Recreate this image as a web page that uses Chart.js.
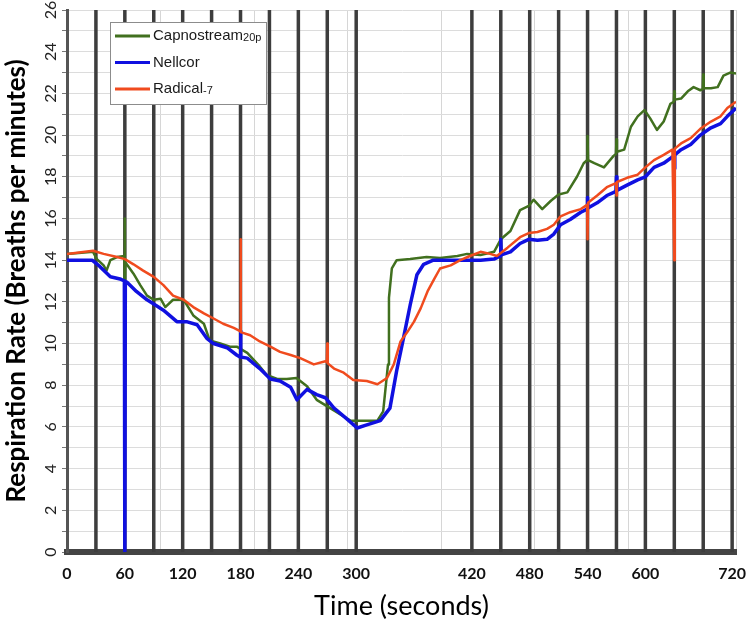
<!DOCTYPE html>
<html lang="en">
<head>
  <meta charset="UTF-8">
  <title>Respiration Rate</title>
  <script src="https://cdn.jsdelivr.net/npm/chart.js"></script>
  <style>
    html, body { margin: 0; padding: 0; background: #fff; }
    canvas { display: block; }
  </style>
</head>
<body>
  <canvas id="chart" width="750" height="622"></canvas>

  <script>
    // x ticks (seconds) and the text printed under each one
    const xTickValues = [0, 60, 120, 180, 240, 300, 420, 480, 540, 600, 690];
    const xTickLabels = ['0', '60', '120', '180', '240', '300', '420', '480', '540', '600', '720'];
    const yTickLabels = [0, 2, 4, 6, 8, 10, 12, 14, 16, 18, 20, 22, 24, 26];

    // dark event marks, every 30 s
    const eventTimes = [30, 60, 90, 120, 150, 180, 210, 240, 270, 300,
                        420, 450, 480, 510, 540, 570, 600, 630, 660, 690];

    const seriesNames = ['Capnostream', 'Nellcor', 'Radical'];
    const seriesSuffix = ['20p', '', '-7'];
    const seriesColors = ['#41701f', '#1010e0', '#f04b1e'];

    const capnoTime = [0, 27, 31, 38, 41, 45, 52, 59.5, 60, 60, 60.5, 62, 69, 76, 83, 90, 97, 102, 110, 121,
      131, 142, 148, 159, 169, 176, 187, 200, 207, 218, 228, 238, 249, 259, 273, 287, 294, 311, 322, 328,
      333, 334, 337, 342, 356, 373, 387, 405, 415, 429, 443, 450, 460, 470, 479, 484, 493, 502, 510, 519,
      529, 536, 539.5, 540, 540.5, 547, 557, 567, 569.5, 570, 570.5, 578, 585, 592, 599, 605, 612, 619, 626, 629.5,
      630, 630.5, 637, 644, 650, 657, 659.5, 660, 660.5, 668, 675, 681, 688, 694];
    const capnoRate = [14.3, 14.4, 14.05, 13.75, 13.5, 14.0, 14.15, 14.2, 16.0, 11.9, 13.9, 13.8, 13.35, 12.8, 12.3, 12.1, 12.15, 11.75, 12.1, 12.1,
      11.35, 10.95, 10.15, 10.0, 9.85, 9.85, 9.55, 8.9, 8.5, 8.3, 8.3, 8.35, 7.95, 7.3, 6.9, 6.5, 6.3, 6.3, 6.3, 6.75,
      9.0, 12.2, 13.6, 14.0, 14.05, 14.15, 14.1, 14.2, 14.3, 14.25, 14.4, 15.0, 15.4, 16.4, 16.6, 16.9, 16.45, 16.85, 17.15, 17.25,
      18.0, 18.65, 18.8, 19.95, 18.8, 18.65, 18.45, 19.0, 19.1, 19.8, 19.2, 19.3, 20.4, 20.9, 21.2, 20.8, 20.25, 20.65, 21.5, 21.6,
      22.1, 21.7, 21.75, 22.1, 22.3, 22.15, 22.2, 22.9, 22.25, 22.25, 22.3, 22.85, 23.0, 22.95];

    const nellcorTime = [0, 26, 34, 45, 55, 59.5, 60, 60.5, 62, 72, 83, 90, 100, 114, 124, 135, 145, 152, 166, 176,
      179.5, 180, 180.5, 187, 200, 211, 221, 232, 238.5, 249, 259, 268, 277, 290, 301, 311, 325, 335, 342, 349,
      356, 363, 370, 380, 398, 415, 429, 443, 449.5, 450, 450.5, 460, 470, 479, 488, 498, 505, 512, 522, 533,
      539.5, 540, 540.5, 550, 560, 569.5, 570, 570.5, 581, 592, 600, 609, 619, 629.5, 630, 630.5, 637, 647, 657, 668,
      678, 685, 694];
    const nellcorRate = [14.0, 14.0, 13.7, 13.2, 13.1, 13.0, 0, 12.95, 12.95, 12.5, 12.1, 11.9, 11.6, 11.05, 11.05, 10.9, 10.25, 10.0, 9.8, 9.45,
      9.35, 10.6, 9.35, 9.3, 8.8, 8.3, 8.2, 7.9, 7.3, 7.8, 7.55, 7.4, 6.9, 6.4, 5.95, 6.1, 6.3, 6.9, 8.7, 10.25,
      11.85, 13.3, 13.8, 14.0, 14.0, 14.0, 14.0, 14.05, 14.2, 15.0, 14.25, 14.4, 14.8, 15.0, 14.95, 15.0, 15.25, 15.7, 15.95, 16.3,
      16.45, 17.0, 16.5, 16.75, 17.1, 17.3, 18.0, 17.35, 17.6, 17.85, 18.0, 18.45, 18.65, 19.0, 18.4, 19.05, 19.3, 19.55, 20.0, 20.35,
      20.55, 20.9, 21.3];

    const radicalTime = [0, 27, 38, 52, 60, 69, 79, 90, 100, 110, 121, 131, 142, 152, 162, 173, 179.5, 180, 180.5, 190,
      200, 211, 221, 232, 242, 256, 268, 269.5, 270, 270.5, 277, 287, 297, 311, 322, 332, 339, 346, 353, 360,
      367, 374, 381, 387, 398, 408, 418, 429, 439, 446, 457, 470, 479, 488, 498, 505, 512, 522, 533, 539.5,
      540, 540.5, 550, 560, 569.5, 570, 570.5, 581, 592, 600, 609, 619, 628, 630, 630.5, 637, 647, 657, 668, 678,
      685, 694];
    const radicalRate = [14.3, 14.45, 14.3, 14.15, 14.05, 13.8, 13.5, 13.2, 12.8, 12.3, 12.1, 11.75, 11.45, 11.2, 10.95, 10.75, 10.6, 15.0, 10.55, 10.4,
      10.1, 9.85, 9.6, 9.45, 9.3, 9.0, 9.15, 9.1, 10.0, 9.05, 8.8, 8.6, 8.25, 8.2, 8.05, 8.35, 9.0, 10.1, 10.55, 11.05,
      11.7, 12.5, 13.1, 13.6, 13.75, 14.0, 14.2, 14.4, 14.3, 14.2, 14.6, 15.1, 15.3, 15.35, 15.5, 15.7, 16.1, 16.3, 16.45, 16.65,
      15.0, 16.75, 17.1, 17.5, 17.7, 17.1, 17.75, 17.95, 18.1, 18.45, 18.8, 19.05, 19.3, 14.0, 19.35, 19.6, 19.85, 20.3, 20.65, 20.9,
      21.3, 21.6];

    function pts(ts, vs) { return ts.map((t, i) => ({ x: t, y: vs[i] })); }

    const eventData = [];
    eventTimes.forEach(t => { eventData.push({ x: t, y: 0 }, { x: t, y: 26 }, { x: t, y: null }); });

    // legend drawn inside the plot, small suffixes like the original
    const legendBox = {
      id: 'legendBox',
      afterDatasetsDraw(chart) {
        const ctx = chart.ctx;
        const x = chart.chartArea.left + 43, y = 22;
        ctx.save();
        ctx.fillStyle = '#fff';
        ctx.fillRect(x, y, 156, 82);
        ctx.strokeStyle = '#8c8c8c';
        ctx.lineWidth = 1;
        ctx.strokeRect(x + 0.5, y + 0.5, 156, 82);
        seriesNames.forEach((name, i) => {
          const ly = y + 14 + i * 26.5;
          ctx.strokeStyle = seriesColors[i];
          ctx.lineWidth = 3;
          ctx.beginPath();
          ctx.moveTo(x + 5, ly);
          ctx.lineTo(x + 40, ly);
          ctx.stroke();
          ctx.fillStyle = '#1a1a1a';
          ctx.textBaseline = 'middle';
          ctx.font = '15px "Liberation Sans", Arial, sans-serif';
          ctx.fillText(name, x + 43, ly);
          const w = ctx.measureText(name).width;
          ctx.font = '11px "Liberation Sans", Arial, sans-serif';
          ctx.fillText(seriesSuffix[i], x + 43 + w, ly + 2);
        });
        ctx.restore();
      }
    };

    new Chart(document.getElementById('chart'), {
      type: 'line',
      data: {
        datasets: [
          { label: 'Radical-7', data: pts(radicalTime, radicalRate), borderColor: seriesColors[2], borderWidth: 2.5, order: 1 },
          { label: 'Nellcor', data: pts(nellcorTime, nellcorRate), borderColor: seriesColors[1], borderWidth: 3.5, order: 2 },
          { label: 'Capnostream20p', data: pts(capnoTime, capnoRate), borderColor: seriesColors[0], borderWidth: 2.5, order: 3 },
          { label: 'events', data: eventData, borderColor: '#3d3d3d', borderWidth: 3.5, order: 10, spanGaps: false }
        ]
      },
      options: {
        responsive: false,
        animation: false,
        layout: { padding: { top: 10, right: 14, bottom: 0, left: 0 } },
        elements: { point: { radius: 0 }, line: { tension: 0, borderJoinStyle: 'round' } },
        plugins: { legend: { display: false }, tooltip: { enabled: false } },
        scales: {
          x: {
            type: 'linear', min: 0, max: 694,
            afterBuildTicks: s => { s.ticks = xTickValues.map(v => ({ value: v })); },
            ticks: {
              autoSkip: false, maxRotation: 0, padding: 12, color: '#111',
              font: { family: 'Lato', size: 16, weight: 'bold' },
              callback: (v, i) => xTickLabels[i]
            },
            grid: { display: false, drawTicks: false },
            border: { color: '#444', width: 6 },
            title: { display: true, text: 'Time (seconds)', color: '#000', padding: 0,
                     font: { family: 'Lato', size: 27 } },
            afterFit: s => { s.height = 70; s.paddingLeft = 0; s.paddingRight = 0; }
          },
          xg: {
            type: 'linear', position: 'top', min: 0, max: 694,
            ticks: { display: false, stepSize: 97 },
            grid: { color: '#d6d6d6', drawTicks: false },
            border: { display: false }
          },
          y: {
            min: 0, max: 26,
            ticks: {
              stepSize: 1, autoSkip: false, minRotation: 90, maxRotation: 90,
              crossAlign: 'center', padding: 2, color: '#222',
              font: { family: 'Lato', size: 16 },
              callback: v => yTickLabels.includes(v) ? String(v) : ''
            },
            grid: { color: '#dcdcdc', tickColor: '#777', tickLength: 5 },
            border: { color: '#555', width: 3 },
            title: { display: true, text: 'Respiration Rate (Breaths per minutes)', color: '#000',
                     padding: { top: 1, bottom: 0 }, font: { family: 'Lato', size: 26, weight: 'bold' } },
            afterFit: s => { s.width = 67; s.paddingTop = 0; s.paddingBottom = 0; }
          }
        }
      },
      plugins: [legendBox]
    });
  </script>
</body>
</html>
